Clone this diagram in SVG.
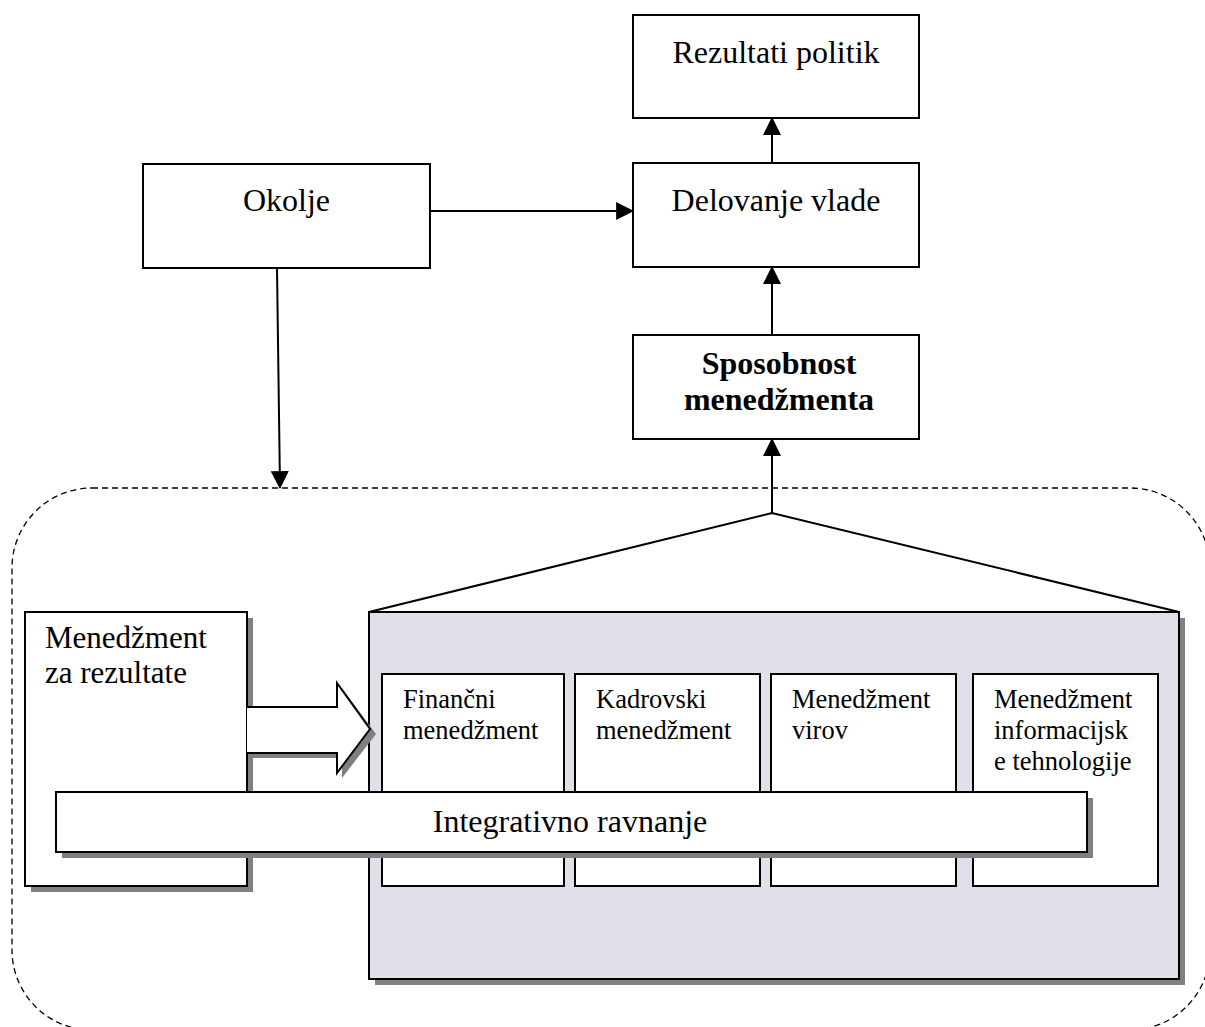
<svg xmlns="http://www.w3.org/2000/svg" width="1205" height="1027" viewBox="0 0 1205 1027">
<style>
.box{fill:#fff;stroke:#000;stroke-width:2}
.sh{fill:#808080}
.t{font-family:"Liberation Serif","Times New Roman",serif;fill:#000}
.big{font-size:32px}
.mid{font-size:31px}
.sm{font-size:26.5px}
.b{font-weight:bold}
.ln{stroke:#000;stroke-width:2;fill:none}
</style>
<defs>
<marker id="ah" markerUnits="userSpaceOnUse" markerWidth="18" markerHeight="18" viewBox="0 0 16 16" refX="15" refY="8" orient="auto">
<path d="M0,0 L16,8 L0,16 Z" fill="#000"/>
</marker>
</defs>
<rect width="1205" height="1027" fill="#fff"/>

<g id="boundary">
<rect x="12" y="488" width="1198" height="542" rx="80" ry="80" fill="none" stroke="#000" stroke-width="1.3" stroke-dasharray="6,4"/>
</g>

<g id="rezultati">
<rect class="box" x="633" y="15" width="286" height="103"/>
<text class="t big" x="776" y="63" text-anchor="middle">Rezultati politik</text>
</g>
<g id="delovanje">
<rect class="box" x="633" y="163" width="286" height="104"/>
<text class="t big" x="776" y="211" text-anchor="middle">Delovanje vlade</text>
</g>
<g id="okolje">
<rect class="box" x="143" y="164" width="287" height="104"/>
<text class="t big" x="286.5" y="211" text-anchor="middle">Okolje</text>
</g>
<g id="sposobnost">
<rect class="box" x="633" y="335" width="286" height="104"/>
<text class="t big b" x="779" y="374" text-anchor="middle">Sposobnost</text>
<text class="t big b" x="779" y="410" text-anchor="middle">menedžmenta</text>
</g>

<g id="funkcije">
<rect class="sh" x="375" y="618" width="810" height="367"/>
<rect x="369" y="612" width="810" height="367" fill="#e2deea" stroke="#000" stroke-width="2"/>
<g id="financni">
<rect class="box" x="382" y="674" width="182" height="212"/>
<text class="t sm" x="403" y="708">Finančni</text>
<text class="t sm" x="403" y="739">menedžment</text>
</g>
<g id="kadrovski">
<rect class="box" x="575" y="674" width="185" height="212"/>
<text class="t sm" x="596" y="708">Kadrovski</text>
<text class="t sm" x="596" y="739">menedžment</text>
</g>
<g id="viri">
<rect class="box" x="771" y="674" width="185" height="212"/>
<text class="t sm" x="792" y="708">Menedžment</text>
<text class="t sm" x="792" y="739">virov</text>
</g>
<g id="it">
<rect class="box" x="973" y="674" width="185" height="212"/>
<text class="t sm" x="994" y="708">Menedžment</text>
<text class="t sm" x="994" y="739">informacijsk</text>
<text class="t sm" x="994" y="770">e tehnologije</text>
</g>
</g>

<g id="rezultati-menedzment">
<rect class="sh" x="31" y="618" width="222" height="274"/>
<rect class="box" x="25" y="612" width="222" height="274"/>
<text class="t mid" x="45" y="648">Menedžment</text>
<text class="t mid" x="45" y="683">za rezultate</text>
</g>

<g id="blok-puscica">
<path class="sh" d="M252,712 L342,712 L342,688 L376,734 L342,778 L342,758 L252,758 Z"/>
<path d="M247,707 L337,707 L337,683 L370,729 L337,773 L337,753 L247,753" fill="#fff" stroke="#000" stroke-width="2"/>
</g>

<g id="integrativno">
<rect class="sh" x="62" y="798" width="1031" height="60"/>
<rect class="box" x="56" y="792" width="1031" height="60"/>
<text class="t big" x="570" y="832" text-anchor="middle">Integrativno ravnanje</text>
</g>

<g id="connectors">
<line class="ln" x1="772" y1="163" x2="772" y2="118" marker-end="url(#ah)"/>
<line class="ln" x1="772" y1="335" x2="772" y2="267" marker-end="url(#ah)"/>
<line class="ln" x1="772" y1="513" x2="772" y2="439" marker-end="url(#ah)"/>
<line class="ln" x1="430" y1="211" x2="633" y2="211" marker-end="url(#ah)"/>
<line class="ln" x1="277" y1="268" x2="280" y2="488" marker-end="url(#ah)"/>
<polyline class="ln" points="369,612 772,513 1179,612"/>
</g>
</svg>
